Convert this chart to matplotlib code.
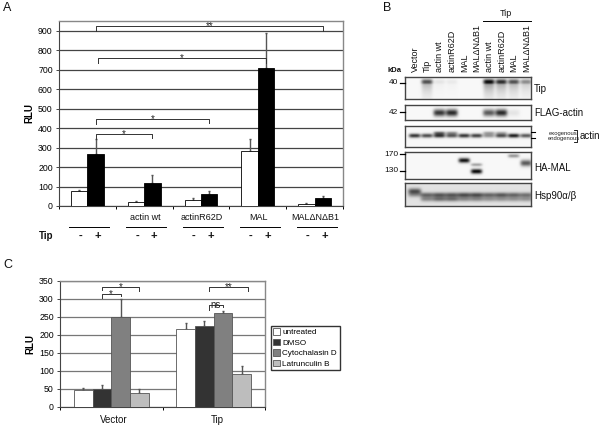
import numpy as np
import matplotlib
matplotlib.use('Agg')
import matplotlib.pyplot as plt

plt.rcParams['font.family'] = ['Liberation Sans', 'DejaVu Sans']

W, H = 600, 425

# panel A
a_minus = [75, 20, 32, 280, 10]
a_plus = [265, 120, 60, 707, 40]
a_minus_err = [6, 6, 7, 62, 3]
a_plus_err = [78, 38, 16, 180, 10]
a_labels = ['', 'actin wt', 'actinR62D', 'MAL', 'MAL\u0394N\u0394B1']
a_ticks = list(range(0, 1000, 100))

# panel C
c_groups = ['Vector', 'Tip']
c_series = ['untreated', 'DMSO', 'Cytochalasin D', 'Latrunculin B']
c_values = [[47, 216], [50, 224], [249, 260], [40, 91]]
c_errors = [[5, 18], [11, 16], [52, 8], [9, 22]]
c_colors = ['white', '#333333', '#808080', '#bdbdbd']
c_ticks = list(range(0, 400, 50))

# panel B, band strength per lane
lanes = ['Vector', 'Tip', 'actin wt', 'actinR62D', 'MAL', 'MAL\u0394N\u0394B1',
         'actin wt', 'actinR62D', 'MAL', 'MAL\u0394N\u0394B1']
blot_tip = [0, .7, .08, .06, 0, 0, 1, .85, .7, .45]
blot_flag = [0, 0, .8, .85, 0, 0, .65, .85, .08, 0]
blot_actin_low = [.8, .7, .8, .65, .8, .75, .4, .7, .9, .65]
blot_actin_up = [0, 0, .5, .35, 0, 0, .3, .25, 0, 0]
blot_mal_a = [0, 0, 0, 0, .95, 0, 0, 0, 0, 0]
blot_mal_b = [0, 0, 0, 0, 0, .35, 0, 0, 0, 0]
blot_mal_c = [0, 0, 0, 0, 0, 1, 0, 0, 0, 0]
blot_mal_d = [0, 0, 0, 0, 0, 0, 0, 0, .4, 0]
blot_mal_e = [0, 0, 0, 0, 0, 0, 0, 0, 0, .65]
blot_hsp_top = [.6, 0, 0, 0, 0, 0, 0, 0, 0, 0]
blot_hsp_up = [.25, .5, .55, .55, .6, .6, .5, .55, .5, .45]
blot_hsp_low = [0, .35, .45, .45, .35, .35, .3, .3, .3, .3]


def px_axes(x0, y0, x1, y1):
    return fig.add_axes([x0 / W, 1 - y1 / H, (x1 - x0) / W, (y1 - y0) / H])


def txt(x, y, s, **kw):
    kw.setdefault('ha', 'center')
    kw.setdefault('va', 'center')
    kw.setdefault('fontsize', 6.5)
    kw.setdefault('color', '#111111')
    fig.text(x / W, 1 - y / H, s, **kw)


def hline(x0, x1, y, lw=0.7):
    fig.add_artist(plt.Line2D([x0 / W, x1 / W], [1 - y / H] * 2, color='black', lw=lw))


def style_chart(ax, ticks, grid):
    ax.set_yticks(ticks)
    ax.tick_params(axis='y', labelsize=6.3, length=2.5, width=0.7, pad=2, color='#444444')
    ax.tick_params(axis='x', length=2, width=0.7, labelbottom=False)
    ax.yaxis.grid(True, color=grid, lw=0.9)
    ax.set_axisbelow(True)
    for side in ['top', 'right']:
        ax.spines[side].set_color('#888888')
        ax.spines[side].set_linewidth(1.0)
    for side in ['left', 'bottom']:
        ax.spines[side].set_color('#444444')
        ax.spines[side].set_linewidth(0.8)
    ax.set_ylabel('RLU', fontsize=7, fontweight='bold')
    ax.yaxis.set_label_coords(-25 / ax.bbox.width, 0.5)


def bracket(ax, x0, x1, y, drop0, drop1, label, fs=7):
    ax.plot([x0, x0, x1, x1], [y - drop0, y, y, y - drop1], color='#333333', lw=0.7, clip_on=False, zorder=5)
    ax.text((x0 + x1) / 2, y, label, ha='center', va='center', fontsize=fs, color='#222222', zorder=6)


fig = plt.figure(figsize=(W / 100, H / 100), dpi=100)

# ----- A -----
ax = px_axes(59, 21, 343, 206)
x = np.arange(5)
bw = 0.29
ax.bar(x - bw / 2, a_minus, bw, color='white', edgecolor='black', lw=0.6, zorder=3)
ax.bar(x + bw / 2, a_plus, bw, color='black', edgecolor='black', lw=0.6, zorder=3)
ax.errorbar(x - bw / 2, a_minus, yerr=[[0] * 5, a_minus_err], fmt='none', ecolor='#555555', elinewidth=1, capsize=1, zorder=2.5)
ax.errorbar(x + bw / 2, a_plus, yerr=[[0] * 5, a_plus_err], fmt='none', ecolor='#555555', elinewidth=1, capsize=1, zorder=2.5)
ax.set_xlim(-0.5, 4.5)
ax.set_ylim(0, 950)
ax.set_xticks(np.arange(-0.5, 5, 1))
style_chart(ax, a_ticks, '#444444')
bracket(ax, x[0] + bw / 2, x[1] + bw / 2, 370, 25, 20, '*')
bracket(ax, x[0] + bw / 2, x[2] + bw / 2, 447, 25, 20, '*')
bracket(ax, x[0] + 0.18, x[3] + bw / 2, 760, 25, 25, '*')
bracket(ax, x[0] + bw / 2, x[4] + bw / 2, 924, 25, 25, '**')

txt(7, 8, 'A', fontsize=9)
txt(8, 265, 'C', fontsize=9)
txt(53, 236, 'Tip', fontweight='bold', ha='right', fontsize=7)
for i, lab in enumerate(a_labels):
    cx = 59 + 56.8 * (i + 0.5)
    txt(cx + 1, 218, lab)
    hline(cx - 18, cx + 22, 227)
    txt(cx - 7, 236, '-', fontsize=8, fontweight='bold')
    txt(cx + 10, 236, '+', fontsize=8, fontweight='bold')

# ----- C -----
ax = px_axes(60, 281, 265, 407)
x = np.arange(2)
bw = 0.182
for i in range(4):
    pos = x + (i - 1.5) * bw
    ax.bar(pos, c_values[i], bw, color=c_colors[i], edgecolor='#555555', lw=0.6, zorder=3, label=c_series[i])
    ax.errorbar(pos, c_values[i], yerr=[[0, 0], c_errors[i]], fmt='none', ecolor='#555555', elinewidth=1, capsize=1, zorder=2.5)
ax.set_xlim(-0.5, 1.5)
ax.set_ylim(0, 350)
ax.set_xticks([-0.5, 0.5, 1.5])
style_chart(ax, c_ticks, '#777777')
bracket(ax, -0.5 * bw, 0.5 * bw, 313, 9, 5, '*')
bracket(ax, -0.5 * bw, 1.5 * bw, 333, 9, 12, '*')
bracket(ax, 0.955, 1.09, 283, 13, 5, 'ns')
bracket(ax, 0.955, 1.334, 333, 12, 12, '**')
txt(114, 420, c_groups[0], fontsize=7)
txt(217, 420, c_groups[1], fontsize=7)
fig.legend(*ax.get_legend_handles_labels(), loc='upper left', bbox_to_anchor=(271 / W, 1 - 326 / H),
           fontsize=5.9, frameon=True, fancybox=False, edgecolor='#333333', framealpha=1,
           handlelength=0.8, handleheight=0.8, handletextpad=0.3, labelspacing=0.3, borderpad=0.3, borderaxespad=0)


# ----- B -----
def blot(y0, y1, bands, width=0.04, bg=0.03, x0=405, x1=531):
    # bands: (lane strengths, vertical position, vertical size, smear below)
    ax = px_axes(x0, y0, x1, y1)
    ny, nx = (y1 - y0) * 4, (x1 - x0) * 4
    yy, xx = np.mgrid[0:1:ny * 1j, 0:1:nx * 1j]
    img = np.full((ny, nx), float(bg))
    for vals, yc, sy, smear in bands:
        for i, v in enumerate(vals):
            lx = 0.076 + 0.0984 * i
            gx = np.exp(-((xx - lx) / width) ** 4)
            d = yy - yc
            gy = np.exp(-(d / sy) ** 2)
            if smear:
                gy = np.maximum(gy, 0.5 * np.exp(-np.clip(d, 0, None) / smear) * (d > 0))
            img += v * gx * gy
    ax.imshow(1 - 0.95 * np.clip(img, 0, 1), cmap='gray', vmin=0, vmax=1, aspect='auto', extent=[0, 1, 1, 0])
    ax.set_xticks([])
    ax.set_yticks([])
    for s in ax.spines.values():
        s.set_linewidth(1.0)
        s.set_color('#444444')


blot(77, 99, [(blot_tip, 0.22, 0.13, 0.4)], width=0.045)
blot(105, 120, [(blot_flag, 0.52, 0.24, 0)], width=0.048)
blot(126, 147, [(blot_actin_low, 0.46, 0.1, 0), (blot_actin_up, 0.33, 0.08, 0)], width=0.046)
blot(152, 179, [(blot_mal_a, 0.31, 0.09, 0), (blot_mal_b, 0.47, 0.06, 0), (blot_mal_c, 0.72, 0.09, 0),
                (blot_mal_d, 0.14, 0.07, 0), (blot_mal_e, 0.41, 0.12, 0)], width=0.045)
blot(183, 206, [(blot_hsp_top, 0.36, 0.13, 0), (blot_hsp_up, 0.52, 0.11, 0), (blot_hsp_low, 0.7, 0.11, 0)],
     width=0.052, bg=0.12)

txt(387, 8, 'B', fontsize=9)
for i, lab in enumerate(lanes):
    txt(415 + i * 12.4, 72.5, lab, rotation=90, va='bottom', fontsize=6.5)
txt(506, 13, 'Tip')
hline(483, 531, 21)
txt(394, 71, 'kDa', fontsize=5.5, fontweight='bold')
for y, lab in [(83, '40'), (112, '42'), (154, '170'), (171, '130')]:
    txt(398, y, lab, fontsize=6, ha='right')
    hline(400, 405, y, lw=0.9)
for y, lab in [(88.5, 'Tip'), (113, 'FLAG-actin'), (168, 'HA-MAL'), (196, 'Hsp90\u03b1/\u03b2')]:
    txt(534, y, lab, fontsize=7, ha='left')
txt(563.5, 133, 'exogenous', fontsize=4.2, color='#222222')
txt(563.5, 138.5, 'endogenous', fontsize=4.2, color='#222222')
txt(590, 136, 'actin', fontsize=7)
hline(531, 535, 132, lw=0.8)
hline(531, 535, 138, lw=0.8)
fig.add_artist(plt.Line2D([574 / W, 577 / W, 577 / W, 574 / W],
                          [1 - 130 / H, 1 - 130 / H, 1 - 142 / H, 1 - 142 / H], color='black', lw=0.6))

fig.savefig('out.png', dpi=100)
